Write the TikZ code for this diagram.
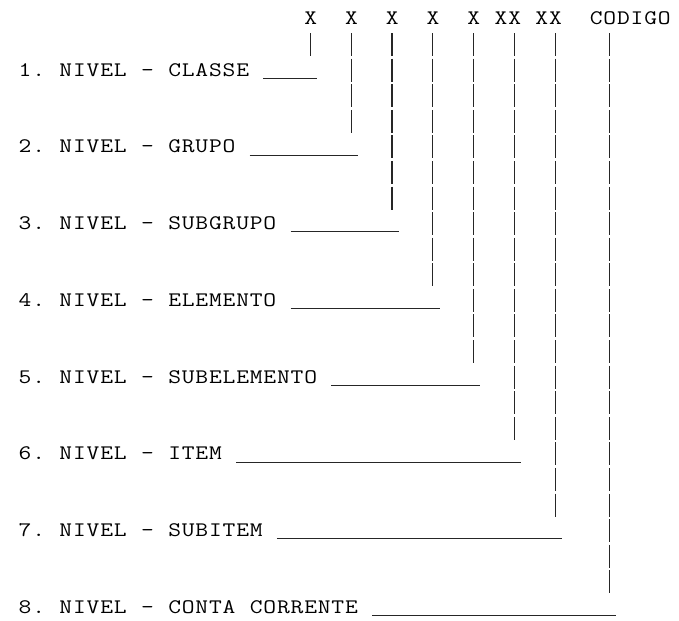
\documentclass[tikz,border=0pt]{standalone}
\usepackage{fontspec}
\usepackage{graphicx}
\usepackage{tikz}
\usetikzlibrary{calc}
% fixed 10.2pt cells, one per character, as on a line printer
\ExplSyntaxOn
\cs_new_protected:Npn \codecell:n #1 { \makebox[10.2pt]{\scalebox{1.2}[1]{#1}} }
\cs_generate_variant:Nn \str_map_function:nN { x }
\cs_new_protected:Npn \monotext #1 { \str_map_function:xN {#1} \codecell:n }
\ExplSyntaxOff
\tikzset{
  txt/.style={font=\ttfamily\fontsize{15.5}{18}\selectfont,inner sep=0pt,anchor=base west},
  hdr/.style={txt},
  lbl/.style={txt},
  barline/.style={draw=black!85,line width=1pt,dash pattern=on 17.25pt off 1.935pt},
  uline/.style={draw=black!85,line width=0.8pt}
}

\begin{document}
\begin{tikzpicture}[x=0.75pt,y=-0.75pt]
  \useasboundingbox (0,0) rectangle (679,621);
  % Header: digit groups of the code
  \foreach \n/\col/\bar/\txt in {1/21/21/X,2/24/24/X,3/27/27/X,4/30/30/X,
      5/33/33/X,6/35/36/XX,7/38/39/XX,8/42/43/CODIGO} {
    \node[hdr] (h\n) at ({18+13.6*\col},25) {\monotext{\txt}};
    \coordinate (t\n) at ({18+13.6*(\bar+0.5)},{25+25.58-17.5});
    \coordinate (e\n) at ({18+13.6*(\bar+0.5)},{25+25.58*(3*\n-2)+5.5});
  }
  % Levels
  \foreach \n/\txt in {1/CLASSE,2/GRUPO,3/SUBGRUPO,4/ELEMENTO,5/SUBELEMENTO,
      6/ITEM,7/SUBITEM,8/CONTA CORRENTE} {
    \node[lbl] (l\n) at (18,{25+25.58*(3*\n-1)}) {\monotext{\n. NIVEL - \txt}};
  }
  % Bars down from each group, lines out from each level
  \foreach \n in {1,...,8} {
    \draw[barline] (t\n) -- (e\n);
    \draw[uline] ($(l\n.base east)+(13.6,2.3)$) -- ($(t\n |- l\n.base)+(6.8,2.3)$);
  }
\end{tikzpicture}
\end{document}
